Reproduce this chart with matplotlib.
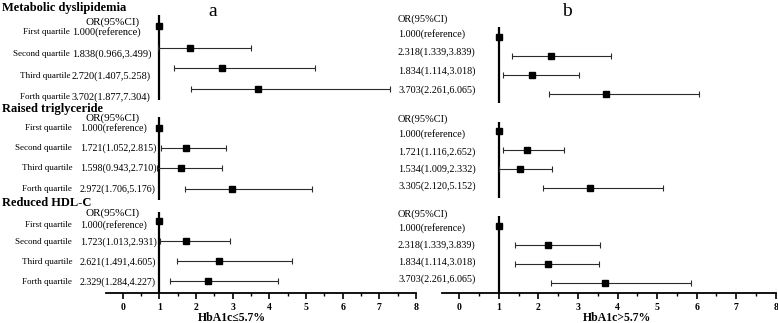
import numpy as np
import matplotlib
matplotlib.use("Agg")
import matplotlib.pyplot as plt

plt.rcParams["font.family"] = ["Liberation Serif", "DejaVu Serif"]

FIG_W, FIG_H = 778, 323

groups = ["Metabolic dyslipidemia", "Raised triglyceride", "Reduced HDL-C"]
quartiles = ["First quartile", "Second quartile", "Third quartile", "Forth quartile"]
header = "OR(95%CI)"

# panel a: HbA1c <= 5.7%
low_or = [[1.000, 1.838, 2.720, 3.702],
          [1.000, 1.721, 1.598, 2.972],
          [1.000, 1.723, 2.621, 2.329]]
low_lo = [[np.nan, 0.966, 1.407, 1.877],
          [np.nan, 1.052, 0.943, 1.706],
          [np.nan, 1.013, 1.491, 1.284]]
low_hi = [[np.nan, 3.499, 5.258, 7.304],
          [np.nan, 2.815, 2.710, 5.176],
          [np.nan, 2.931, 4.605, 4.227]]
low_text = [["1.000(reference)", "1.838(0.966,3.499)", "2.720(1.407,5.258)", "3.702(1.877,7.304)"],
            ["1.000(reference)", "1.721(1.052,2.815)", "1.598(0.943,2.710)", "2.972(1.706,5.176)"],
            ["1.000(reference)", "1.723(1.013,2.931)", "2.621(1.491,4.605)", "2.329(1.284,4.227)"]]

# panel b: HbA1c > 5.7%  (last group drawn slightly off its printed text, as in the source)
high_or = [[1.000, 2.318, 1.834, 3.703],
           [1.000, 1.721, 1.534, 3.305],
           [1.000, 2.24, 2.24, 3.69]]
high_lo = [[np.nan, 1.339, 1.114, 2.261],
           [np.nan, 1.116, 1.009, 2.120],
           [np.nan, 1.40, 1.42, 2.31]]
high_hi = [[np.nan, 3.839, 3.018, 6.065],
           [np.nan, 2.652, 2.332, 5.152],
           [np.nan, 3.55, 3.52, 5.85]]
high_text = [["1.000(reference)", "2.318(1.339,3.839)", "1.834(1.114,3.018)", "3.703(2.261,6.065)"],
             ["1.000(reference)", "1.721(1.116,2.652)", "1.534(1.009,2.332)", "3.305(2.120,5.152)"],
             ["1.000(reference)", "2.318(1.339,3.839)", "1.834(1.114,3.018)", "3.703(2.261,6.065)"]]

x_ticks = list(range(9))
panel_letters = ["a", "b"]
x_titles = ["HbA1c\u22645.7%", "HbA1c>5.7%"]

# layout, in pixel rows/columns of the 778x323 output
AXIS_Y = 293
panels = [
    dict(x0=105.8, w=310.2, xmin=-0.46,
         mark_y=[[26, 48, 68, 89], [128, 148, 168, 189], [221, 241, 261, 281]],
         ref_span=[(15, 100), (117, 200), (212, AXIS_Y)],
         text_y=[[32, 54, 76, 97], [128, 148, 168, 189], [225, 242, 262, 282]],
         head_y=[22, 118, 213], head_x=113, text_x=[72, 80, 80], label_x=[70, 72, 72],
         head_size=8.0, text_size=[7.5, 7.2, 7.2],
         title_y=[8, 109, 203], letter=(213, 12), xtitle=(232, 318)),
    dict(x0=442.3, w=333.4, xmin=-0.43,
         mark_y=[[37, 56, 75, 94], [131, 150, 169, 188], [226, 245, 264, 283]],
         ref_span=[(27, 103), (122, 198), (216, AXIS_Y)],
         text_y=[[34, 52, 71, 90], [134, 152, 169, 186], [228, 245, 262, 279]],
         head_y=[19, 119, 214], text_x=[398, 398, 398],
         head_size=7.5, text_size=[7.3, 7.3, 7.3],
         letter=(567, 12), xtitle=(617, 318)),
]
datasets = [(low_or, low_lo, low_hi, low_text), (high_or, high_lo, high_hi, high_text)]


def fx(x):
    return x / FIG_W


def fy(y):
    return 1 - y / FIG_H


fig = plt.figure(figsize=(FIG_W / 100, FIG_H / 100), dpi=100)
fig.patch.set_facecolor("white")

for p_idx, (lay, (ors, los, his, texts)) in enumerate(zip(panels, datasets)):
    ax = fig.add_axes([fx(lay["x0"]), fy(AXIS_Y), lay["w"] / FIG_W, AXIS_Y / FIG_H])
    ax.set_xlim(lay["xmin"], 8)
    ax.set_ylim(AXIS_Y, 0)
    ax.patch.set_alpha(0)
    for side in ["top", "right", "left"]:
        ax.spines[side].set_visible(False)
    ax.spines["bottom"].set_linewidth(1.3)
    ax.set_yticks([])
    ax.set_xticks(x_ticks)
    ax.set_xticks(np.arange(0.5, 8, 1), minor=True)
    ax.tick_params(axis="x", which="major", length=4, width=1.2, pad=3, labelsize=7)
    ax.tick_params(axis="x", which="minor", length=2.5, width=1.0)
    for lbl in ax.get_xticklabels():
        lbl.set_fontweight("bold")

    for g in range(len(groups)):
        ys = np.array(lay["mark_y"][g], dtype=float)
        o = np.array(ors[g])
        lo = np.array(los[g])
        hi = np.array(his[g])
        top, bottom = lay["ref_span"][g]
        ax.vlines(1, top, bottom, color="black", linewidth=1.6, zorder=2)
        ok = ~np.isnan(lo)
        ax.errorbar(o[ok], ys[ok], xerr=[o[ok] - lo[ok], hi[ok] - o[ok]], fmt="none",
                    ecolor="#2b2b2b", elinewidth=0.8, capsize=2.2, capthick=0.8, zorder=3)
        ax.plot(o, ys, "s", color="black", markersize=4.3, zorder=4, clip_on=False)

        # text columns
        if p_idx == 0:
            fig.text(fx(lay["head_x"]), fy(lay["head_y"][g]), header,
                     ha="center", va="center", fontsize=lay["head_size"])
        else:
            fig.text(fx(lay["text_x"][g]), fy(lay["head_y"][g]), header,
                     ha="left", va="center", fontsize=lay["head_size"])
        for r in range(len(quartiles)):
            fig.text(fx(lay["text_x"][g]), fy(lay["text_y"][g][r]), texts[g][r],
                     ha="left", va="center", fontsize=lay["text_size"][g])
            if p_idx == 0:
                fig.text(fx(lay["label_x"][g]), fy(lay["text_y"][g][r]), quartiles[r],
                         ha="right", va="center", fontsize=6.5)
        if p_idx == 0:
            fig.text(fx(2), fy(lay["title_y"][g]), groups[g], ha="left", va="center",
                     fontsize=9.0, fontweight="bold")

    lx, ly = lay["letter"]
    fig.text(fx(lx), fy(ly), panel_letters[p_idx], ha="center", va="center", fontsize=14)
    tx, ty = lay["xtitle"]
    fig.text(fx(tx), fy(ty), x_titles[p_idx], ha="center", va="center", fontsize=8.5,
             fontweight="bold")

fig.savefig("out.png", dpi=100)
